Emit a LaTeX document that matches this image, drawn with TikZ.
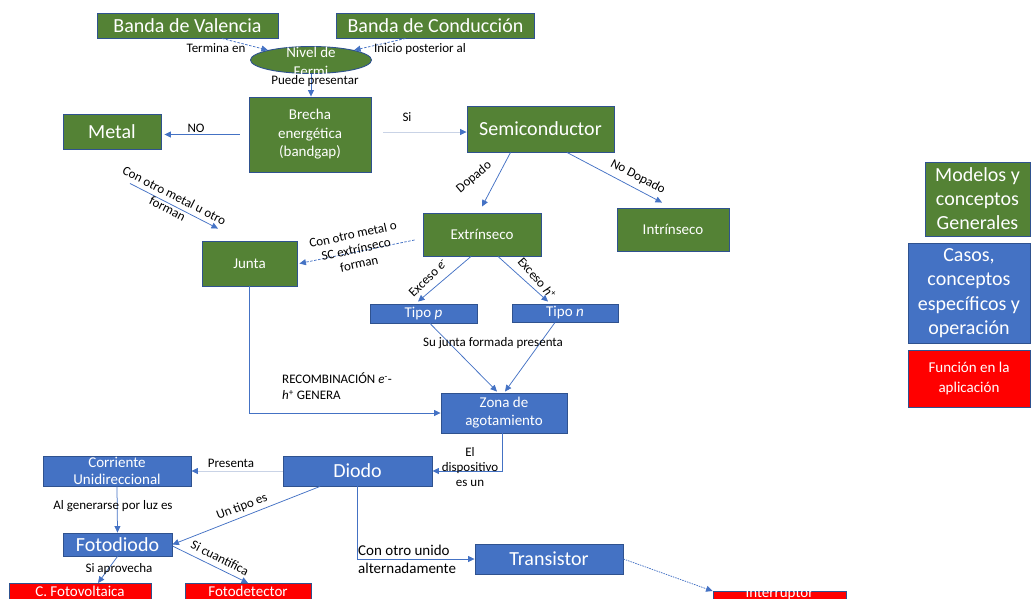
\documentclass[tikz,border=0pt]{standalone}
\usepackage{fontspec}
\setmainfont{Carlito}
\usetikzlibrary{arrows.meta,shapes.geometric}
\definecolor{pgreen}{HTML}{548235}
\definecolor{pblue}{HTML}{4472C4}
\definecolor{pbord}{HTML}{2F528F}
\definecolor{pred}{HTML}{FF0000}
\definecolor{pfaint}{HTML}{C9D3E6}
\newcommand\fsz[2]{\fontsize{#1}{#2}\selectfont}
\begin{document}
\begin{tikzpicture}[x=1pt,y=-1pt,
  box/.style={draw=pbord, line width=0.9pt, text=white, align=center, inner sep=0pt},
  gbox/.style={box, fill=pgreen},
  bbox/.style={box, fill=pblue},
  rbox/.style={box, fill=pred},
  big/.style={font=\fsz{20}{24}},
  mid/.style={font=\fsz{15}{18}},
  lbl/.style={font=\fsz{13}{15}, text=black, inner sep=0pt, align=center},
  conn/.style={draw=pblue, line width=0.75pt, -{Triangle[length=6.5pt,width=6pt,color=pblue]}},
  faint/.style={conn, draw=pfaint},
  dconn/.style={conn, dash pattern=on 2.5pt off 1.5pt}
]
\useasboundingbox (0,0) rectangle (1032,598);
\clip (0,0) rectangle (1032,598);

% ---- nodes ----
\node[gbox, big, minimum width=181pt, minimum height=25pt] (val) at (187.5,25.5) {Banda de Valencia};
\node[gbox, big, minimum width=198pt, minimum height=25pt] (cond) at (435.5,25.5) {Banda de Conducción};
\node[ellipse, draw=pbord, fill=pgreen, line width=0.9pt, inner sep=0pt, minimum width=121pt, minimum height=27pt] (fermi) at (311,60) {};
\node[text=white, align=center, inner sep=0pt, font=\fsz{15}{19}] (fermitxt) at (311,62) {Nivel de\\Fermi};
\node[gbox, font=\fsz{15}{18.5}, minimum width=122pt, minimum height=75pt] (brecha) at (310,134.5) {Brecha\\energética\\(bandgap)};
\node[gbox, big, minimum width=98pt, minimum height=35pt] (metal) at (112,131.5) {Metal};
\node[gbox, big, minimum width=147pt, minimum height=46pt] (semi) at (540.5,129) {Semiconductor};
\node[gbox, mid, minimum width=118pt, minimum height=43pt] (extr) at (482,234.5) {Extrínseco};
\node[gbox, mid, minimum width=112pt, minimum height=43pt] (intr) at (673,229.5) {Intrínseco};
\node[gbox, mid, minimum width=95pt, minimum height=45pt] (junta) at (249.5,263.5) {Junta};
\node[bbox, mid, minimum width=107pt, minimum height=19pt] (tipop) at (423.5,313.5) {Tipo \textit{p}};
\node[bbox, mid, minimum width=106pt, minimum height=18pt] (tipon) at (565,313) {Tipo \textit{n}};
\node[bbox, font=\fsz{15}{18}, minimum width=126pt, minimum height=40pt] (zona) at (504,413) {Zona de\\agotamiento};
\node[bbox, big, minimum width=149pt, minimum height=30pt] (diodo) at (357.5,471) {Diodo};
\node[bbox, font=\fsz{15}{17}, minimum width=148pt, minimum height=30pt] (corr) at (117,471) {Corriente\\Unidireccional};
\node[bbox, big, minimum width=109pt, minimum height=23pt] (foto) at (117.5,544.5) {Fotodiodo};
\node[bbox, big, minimum width=148pt, minimum height=30pt] (trans) at (549,559) {Transistor};
\node[rbox, mid, anchor=north, minimum width=142pt, text height=11pt, text depth=20pt, inner ysep=2pt] (fv) at (80,583) {C. Fotovoltaica};
\node[rbox, mid, anchor=north, minimum width=126pt, text height=11pt, text depth=20pt, inner ysep=2pt] (fdet) at (248,583) {Fotodetector};
\node[rbox, mid, anchor=north, minimum width=133pt, text height=4pt, text depth=20pt, inner ysep=2pt] (inter) at (779.5,591) {Interruptor};

% legend
\node[gbox, font=\fsz{20}{24}, minimum width=105pt, minimum height=74pt] (leg1) at (977.5,199) {Modelos y\\conceptos\\Generales};
\node[bbox, font=\fsz{20}{24.5}, minimum width=122pt, minimum height=100pt] (leg2) at (969,293) {Casos,\\conceptos\\específicos y\\operación};
\node[rbox, font=\fsz{15}{20}, minimum width=122pt, minimum height=57pt] (leg3) at (969,378.5) {Función en la\\aplicación};

% ---- connectors ----
\draw[dconn] ([xshift=34.5pt]val.south) -- (fermi.north west);
\draw[dconn] ([xshift=-30pt]cond.south) -- (fermi.north east);
\draw[conn] (fermi.south) -- (fermi.south |- brecha.north);
\draw[conn] ([xshift=-9pt]brecha.west) -- ([xshift=3pt]metal.east |- brecha.west);
\draw[faint] ([xshift=12pt,yshift=-3pt]brecha.east |- semi.west) -- ([yshift=-3pt]semi.west);
\draw[conn] ([xshift=-30pt]semi.south) -- ([yshift=6pt]extr.north);
\draw[conn] ([xshift=26.5pt]semi.south) -- ([xshift=-11pt,yshift=5pt]intr.north);
\draw[dconn] ([xshift=-8pt,yshift=-5.5pt]extr.west) -- ([xshift=2pt]junta.east);
\draw[conn] ([xshift=18pt,yshift=-34pt]metal.south) -- ([xshift=-31.5pt,yshift=12pt]junta.north);
\draw[conn] ([xshift=-11pt]extr.south) -- ([xshift=-5.5pt,yshift=2pt]tipop.north);
\draw[conn] ([xshift=16pt]extr.south) -- ([xshift=-17pt,yshift=2pt]tipon.north);
\draw[conn] ([xshift=6.5pt]tipop.south) -- ([xshift=-7pt,yshift=1pt]zona.north);
\draw[conn] ([xshift=-10pt]tipon.south) -- ([xshift=1pt,yshift=1pt]zona.north);
\draw[conn] (junta.south) |- (zona.west);
\draw[conn] ([xshift=-2pt]zona.south) |- (diodo.east);
\draw[faint] (diodo.west) -- (corr.east);
\draw[conn] (corr.south) -- (foto.north);
\draw[conn] ([xshift=-37.5pt]diodo.south) -- (foto.east);
\draw[conn] (foto.south) -- ([xshift=18pt]fv.north);
\draw[conn] ([yshift=-1.5pt]foto.east) -- (fdet.north);
\draw[conn] (diodo.south) |- (trans.west);
\draw[dconn, dash pattern=on 1.5pt off 1pt] (trans.east) -- (inter.north west);

% ---- labels ----
\node[lbl] (lTermina) at (216,48) {Termina en};
\node[lbl] (lInicio) at (420,49) {Inicio posterior al};
\node[lbl] (lPuede) at (315,81) {Puede presentar};
\node[lbl] (lNo) at (196,128) {NO};
\node[lbl] (lSi) at (407,117) {Si};
\node[lbl, rotate=40] (lDopado) at (474,177) {Dopado};
\node[lbl, rotate=-28] (lNoDopado) at (638,177) {No Dopado};
\node[lbl, rotate=-27] (lMetalU) at (171,202) {Con otro metal u otro\\forman};
\node[lbl, rotate=12] (lMetalO) at (356,249) {Con otro metal o\\SC extrínseco\\forman};
\node[lbl, rotate=44] (lExE) at (428,278) {Exceso \textit{e}\textsuperscript{-}};
\node[lbl, rotate=-49] (lExH) at (537,278) {Exceso \textit{h}\textsuperscript{+}};
\node[lbl] (lSuJunta) at (493,343) {Su junta formada presenta};
\node[lbl, anchor=west, align=left, font=\fsz{13}{16}] (lRecomb) at (282,386) {RECOMBINACIÓN \textit{e}\textsuperscript{-}-\\\textit{h}\textsuperscript{+} GENERA};
\node[lbl] (lDisp) at (470,467) {El\\dispositivo\\es un};
\node[lbl] (lPresenta) at (231,463) {Presenta};
\node[lbl] (lGenerarse) at (113,506) {Al generarse por luz es};
\node[lbl, rotate=21] (lTipo) at (242,507) {Un tipo es};
\node[lbl] (lAprovecha) at (119,569) {Si aprovecha};
\node[lbl, rotate=-27] (lCuantifica) at (220,558) {Si cuantifica};
\node[lbl, anchor=west, align=left, font=\fsz{15}{18}] (lUnido) at (358,559) {Con otro unido\\alternadamente};
\end{tikzpicture}
\end{document}
